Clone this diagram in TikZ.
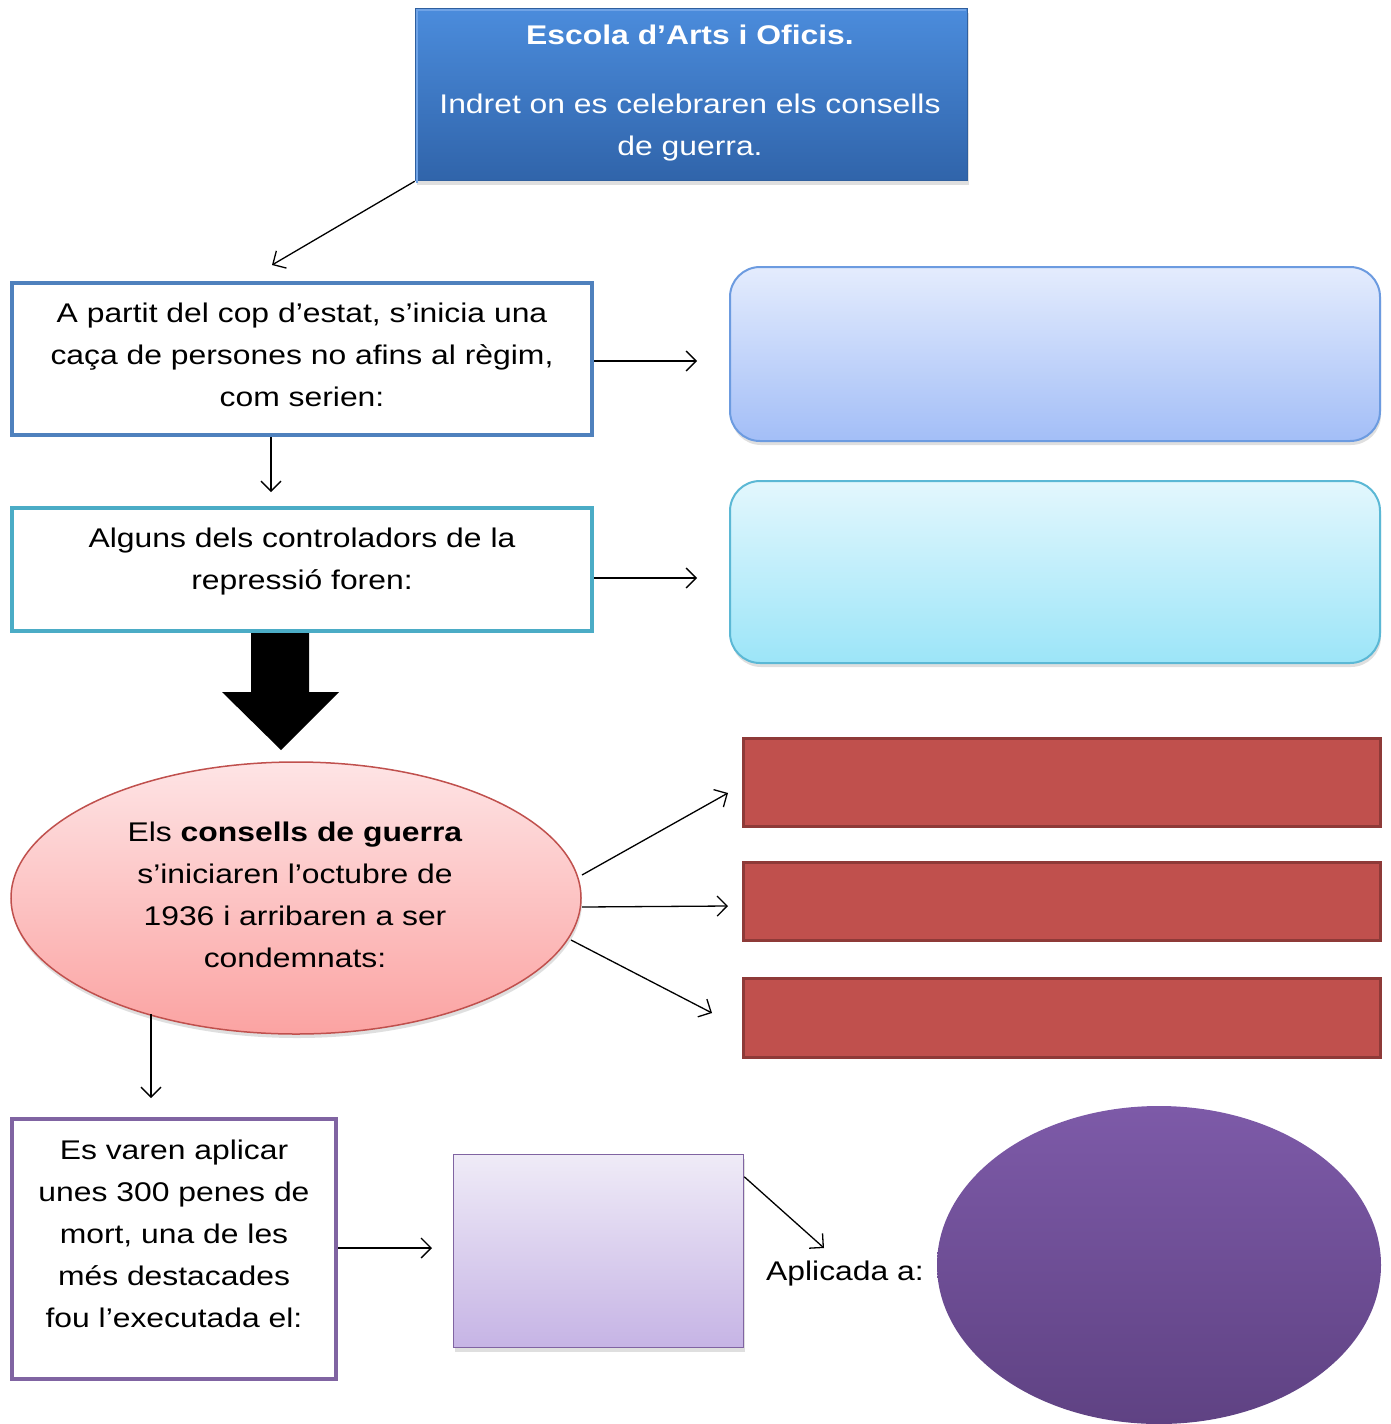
\documentclass[tikz,border=0pt]{standalone}
\usepackage{fontspec}
\setmainfont[FakeStretch=1.18]{Liberation Sans}
\usetikzlibrary{shapes.geometric,arrows.meta,shadows}
\definecolor{titleTop}{HTML}{4B8CDC}
\definecolor{titleBot}{HTML}{3064AA}
\definecolor{titleBrd}{HTML}{2F5F9E}
\definecolor{titleHi}{HTML}{6FA3E6}
\definecolor{bOne}{HTML}{4F81BD}
\definecolor{bTwo}{HTML}{4BACC6}
\definecolor{rOneTop}{HTML}{E4ECFD}
\definecolor{rOneBot}{HTML}{A3BEF7}
\definecolor{rOneBrd}{HTML}{6C9BE0}
\definecolor{rTwoTop}{HTML}{E3F7FD}
\definecolor{rTwoBot}{HTML}{9CE5F8}
\definecolor{rTwoBrd}{HTML}{5BB8D5}
\definecolor{ellTop}{HTML}{FEE4E5}
\definecolor{ellBot}{HTML}{FBA3A2}
\definecolor{ellBrd}{HTML}{C0504D}
\definecolor{redFill}{HTML}{C0504D}
\definecolor{redBrd}{HTML}{8E3A38}
\definecolor{purBrd}{HTML}{8064A2}
\definecolor{lavTop}{HTML}{EFEBF7}
\definecolor{lavBot}{HTML}{C6B4E5}
\definecolor{pellTop}{HTML}{7D5AA8}
\definecolor{pellBot}{HTML}{5F4283}
\newcommand\st{\strut}
\tikzset{
  txt/.style={inner sep=0pt, align=center, font=\fontsize{27}{42}\selectfont},
  conn/.style={line width=1.3pt, -{Straight Barb[length=10pt,width=20pt,line width=1.3pt]}},
  plainbox/.style={rectangle, inner sep=0pt, fill=white, line width=4pt},
  shad/.style={drop shadow={shadow xshift=1pt,shadow yshift=-4pt,opacity=0.25}},
  redbox/.style={rectangle, inner sep=0pt, fill=redFill, draw=redBrd, line width=3pt, minimum width=637pt}
}
\begin{document}
\begin{tikzpicture}[x=1pt,y=-1pt]
\useasboundingbox (0,0) rectangle (1391,1424);
\fill[white] (0,0) rectangle (1391,1424);

% title
\node[rectangle, inner sep=0pt, minimum width=552pt, minimum height=172pt,
  top color=titleTop, bottom color=titleBot, draw=titleBrd, line width=1.5pt, shad] (title) at (691.5,94.5) {};
\draw[titleHi, line width=2pt] ([xshift=2pt,yshift=-2pt]title.south west) -- ([xshift=2pt,yshift=-2pt]title.north west) -- ([xshift=-2pt,yshift=-2pt]title.north east);
\node[txt, text=white] (titlet) at (690,92) {\st\textbf{Escola d’Arts i Oficis.}\\[27pt]Indret on es celebraren els consells\\de guerra.\st};

% box 1
\node[plainbox, draw=bOne, minimum width=580pt, minimum height=152pt] (b1) at (302,359) {};
\node[txt] (b1t) at (302,355.6) {\st A partit del cop d’estat, s’inicia una\\caça de persones no afins al règim,\\com serien:\st};

% box 2
\node[plainbox, draw=bTwo, minimum width=580pt, minimum height=123pt] (b2) at (302,569.5) {};
\node[txt] (b2t) at (302,560) {\st Alguns dels controladors de la\\repressió foren:\st};

% right rounded boxes
\node[rectangle, rounded corners=30pt, inner sep=0pt, minimum width=650pt, minimum height=174pt,
  top color=rOneTop, bottom color=rOneBot, draw=rOneBrd, line width=2pt, shad] (r1) at (1055,354) {};
\node[rectangle, rounded corners=30pt, inner sep=0pt, minimum width=650pt, minimum height=182pt,
  top color=rTwoTop, bottom color=rTwoBot, draw=rTwoBrd, line width=2pt, shad] (r2) at (1055,572) {};

% thick arrow
\fill[black] (251,633) -- (309,633) -- (309,692) -- (339,692) -- (281,750) -- (222,692) -- (251,692) -- cycle;

% pink ellipse
\node[ellipse, inner sep=0pt, minimum width=570pt, minimum height=272pt,
  top color=ellTop, bottom color=ellBot, draw=ellBrd, line width=1.5pt, shad] (ell) at (296,898) {};
\node[txt] (ellt) at (295,895.6) {\st Els \textbf{consells de guerra}\\s’iniciaren l’octubre de\\1936 i arribaren a ser\\condemnats:\st};

% red boxes
\node[redbox, minimum height=88pt] (red1) at (1061.5,782.5) {};
\node[redbox, minimum height=78pt] (red2) at (1061.5,901.5) {};
\node[redbox, minimum height=79pt] (red3) at (1061.5,1018) {};

% purple bordered box
\node[plainbox, draw=purBrd, minimum width=324pt, minimum height=260pt] (pbox) at (174,1249) {};
\node[txt] (pboxt) at (174,1235) {\st Es varen aplicar\\unes 300 penes de\\mort, una de les\\més destacades\\fou l’executada el:\st};

% lavender box
\node[rectangle, inner sep=0pt, minimum width=290pt, minimum height=193pt,
  top color=lavTop, bottom color=lavBot, draw=purBrd, line width=1.5pt, shad] (lav) at (598.5,1251) {};

% Aplicada a
\node[txt] (apl) at (845,1271.6) {\st Aplicada a:};

% purple ellipse
\node[ellipse, inner sep=0pt, minimum width=444pt, minimum height=318pt,
  top color=pellTop, bottom color=pellBot, draw=none] (pell) at (1159,1265) {};

% connectors
\coordinate (c1) at (272,265);
\coordinate (c2) at (697,361);
\coordinate (c3) at (271,492);
\coordinate (c4) at (697,578);
\coordinate (c5) at (728,793);
\coordinate (c6) at (728,906);
\coordinate (c7) at (712,1013);
\coordinate (c8) at (151,1098);
\coordinate (c9) at (432,1248);
\coordinate (c10) at (824,1248);
\coordinate (e1) at (582,875);
\coordinate (e2) at (582,907);
\coordinate (e3) at (571,940);
\coordinate (e4) at (151,1014);

\draw[conn] (title.south west) -- (c1);
\draw[conn] (b1.east |- c2) -- (c2);
\draw[conn] (b1.south -| c3) -- (c3);
\draw[conn] (b2.east |- c4) -- (c4);
\draw[conn] (e1) -- (c5);
\draw[conn] (e2) -- (c6);
\draw[conn] (e3) -- (c7);
\draw[conn] (e4) -- (c8);
\draw[conn] (pbox.east |- c9) -- (c9);
\draw[conn] ([yshift=-23pt]lav.north east) -- (c10);
\end{tikzpicture}
\end{document}
